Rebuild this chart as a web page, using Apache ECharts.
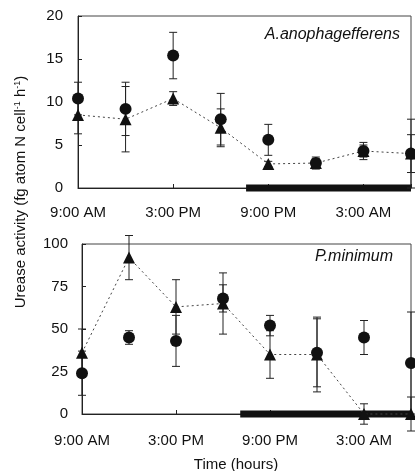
<!DOCTYPE html>
<html style="height: 100%">
<head>
<meta charset="utf-8">
<script src="https://cdn.jsdelivr.net/npm/echarts@6/dist/echarts.min.js"></script>
</head>
<body style="height: 100%; margin: 0; background: #fff;">
<div id="container" style="width: 415px; height: 471px"></div>
<script type="text/javascript">
// hours after 9:00 AM
var hours = [0, 3, 6, 9, 12, 15, 18, 21];
var tickLabels = ['9:00 AM', '3:00 PM', '9:00 PM', '3:00 AM'];

// A. anophagefferens
var anoCircle = [10.4, 9.2, 15.4, 8.0, 5.6, 2.9, 4.3, 4.0];
var anoCircleErr = [1.9, 3.1, 2.7, 3.0, 1.8, 0.7, 1.0, 2.2];
var anoTri = [8.5, 8.0, 10.4, 7.0, 2.8, 2.9, 4.3, 4.0];
var anoTriErr = [2.2, 3.8, 0.8, 2.2, 0.3, 0.5, 0.7, 4.0];
var anoDark = [10.6, 21];

// P. minimum
var pmCircle = [24, 45, 43, 68, 52, 36, 45, 30];
var pmCircleErr = [13, 4, 15, 8, 6, 20, 10, 30];
var pmTri = [36, 92, 63, 65, 35, 35, 0, 0];
var pmTriErr = [14, 13, 16, 18, 14, 22, 6, 10];
var pmDark = [10.1, 21];

var font = 'Liberation Sans, Arial, sans-serif';

function pairs(vals) {
        return hours.map(function (h, i) { return [h, vals[i]]; });
}
function errData(vals, errs) {
        return hours.map(function (h, i) { return [h, vals[i] - errs[i], vals[i] + errs[i]]; });
}
function errRender(params, api) {
        var lo = api.coord([api.value(0), api.value(1)]);
        var hi = api.coord([api.value(0), api.value(2)]);
        var w = 4;
        var st = { stroke: '#222', lineWidth: 1 };
        return {
                type: 'group',
                children: [
                        { type: 'line', shape: { x1: lo[0], y1: lo[1], x2: hi[0], y2: hi[1] }, style: st },
                        { type: 'line', shape: { x1: lo[0] - w, y1: lo[1], x2: lo[0] + w, y2: lo[1] }, style: st },
                        { type: 'line', shape: { x1: hi[0] - w, y1: hi[1], x2: hi[0] + w, y2: hi[1] }, style: st }
                ]
        };
}

function xAxisFor(idx, margin) {
        return {
                gridIndex: idx, type: 'value', min: 0, max: 21, interval: 6,
                axisLine: { lineStyle: { color: '#222' } },
                axisTick: { inside: true, length: 4, lineStyle: { color: '#222' } },
                splitLine: { show: false },
                axisLabel: {
                        color: '#111', fontFamily: font, fontSize: 15, margin: margin,
                        formatter: function (v) { return tickLabels[v / 6] || ''; }
                }
        };
}
function yAxisFor(idx, max, interval, margin) {
        return {
                gridIndex: idx, type: 'value', min: 0, max: max, interval: interval,
                axisLine: { show: true, lineStyle: { color: '#222' } },
                axisTick: { show: true, inside: true, length: 4, lineStyle: { color: '#222' } },
                splitLine: { show: false },
                axisLabel: { color: '#111', fontFamily: font, fontSize: 15, margin: margin }
        };
}

function panelSeries(idx, circ, circErr, tri, triErr, dark) {
        return [
                {
                        type: 'line', xAxisIndex: idx, yAxisIndex: idx, clip: false, silent: true,
                        data: [[dark[0], 0], [dark[1], 0]], symbol: 'none',
                        lineStyle: { color: '#111', width: 7 }, z: 1
                },
                {
                        type: 'custom', xAxisIndex: idx, yAxisIndex: idx, clip: false,
                        renderItem: errRender, data: errData(circ, circErr), z: 2
                },
                {
                        type: 'custom', xAxisIndex: idx, yAxisIndex: idx, clip: false,
                        renderItem: errRender, data: errData(tri, triErr), z: 2
                },
                {
                        type: 'line', xAxisIndex: idx, yAxisIndex: idx, clip: false,
                        data: pairs(tri), symbol: 'triangle', symbolSize: 12,
                        itemStyle: { color: '#111', opacity: 1 },
                        lineStyle: { color: '#444', width: 1, type: [2, 3] }, z: 3
                },
                {
                        type: 'scatter', xAxisIndex: idx, yAxisIndex: idx, clip: false,
                        data: pairs(circ), symbol: 'circle', symbolSize: 12,
                        itemStyle: { color: '#111', opacity: 1 }, z: 4
                }
        ];
}

var myChart = echarts.init(document.getElementById('container'), null, { renderer: 'canvas' });
var option = {
        animation: false,
        backgroundColor: '#fff',
        grid: [
                { left: 78, right: 4, top: 16, height: 172, show: true, borderColor: '#444', borderWidth: 1 },
                { left: 82, right: 4, top: 244, height: 170, show: true, borderColor: '#444', borderWidth: 1 }
        ],
        xAxis: [xAxisFor(0, 17), xAxisFor(1, 19)],
        yAxis: [yAxisFor(0, 20, 5, 15), yAxisFor(1, 100, 25, 14)],
        graphic: [
                {
                        type: 'text',
                        style: {
                                x: 400, y: 35, text: 'A.anophagefferens', align: 'right', verticalAlign: 'middle',
                                font: 'italic 16px ' + font, fill: '#111'
                        }
                },
                {
                        type: 'text',
                        style: {
                                x: 393, y: 257, text: 'P.minimum', align: 'right', verticalAlign: 'middle',
                                font: 'italic 16px ' + font, fill: '#111'
                        }
                },
                {
                        type: 'text',
                        style: {
                                x: 236, y: 465, text: 'Time (hours)', align: 'center', verticalAlign: 'middle',
                                font: '15px ' + font, fill: '#111'
                        }
                },
                {
                        type: 'text', x: 21, y: 192, rotation: Math.PI / 2,
                        style: {
                                x: 0, y: 0, align: 'center', verticalAlign: 'middle',
                                text: 'Urease activity (fg atom N cell{s|-1} h{s|-1})',
                                font: '15px ' + font, fill: '#111',
                                rich: { s: { fontSize: 9, fontFamily: font, verticalAlign: 'top', fill: '#111' } }
                        }
                }
        ],
        series: [].concat(
                panelSeries(0, anoCircle, anoCircleErr, anoTri, anoTriErr, anoDark),
                panelSeries(1, pmCircle, pmCircleErr, pmTri, pmTriErr, pmDark)
        )
};
myChart.setOption(option, true);
</script>
</body>
</html>
